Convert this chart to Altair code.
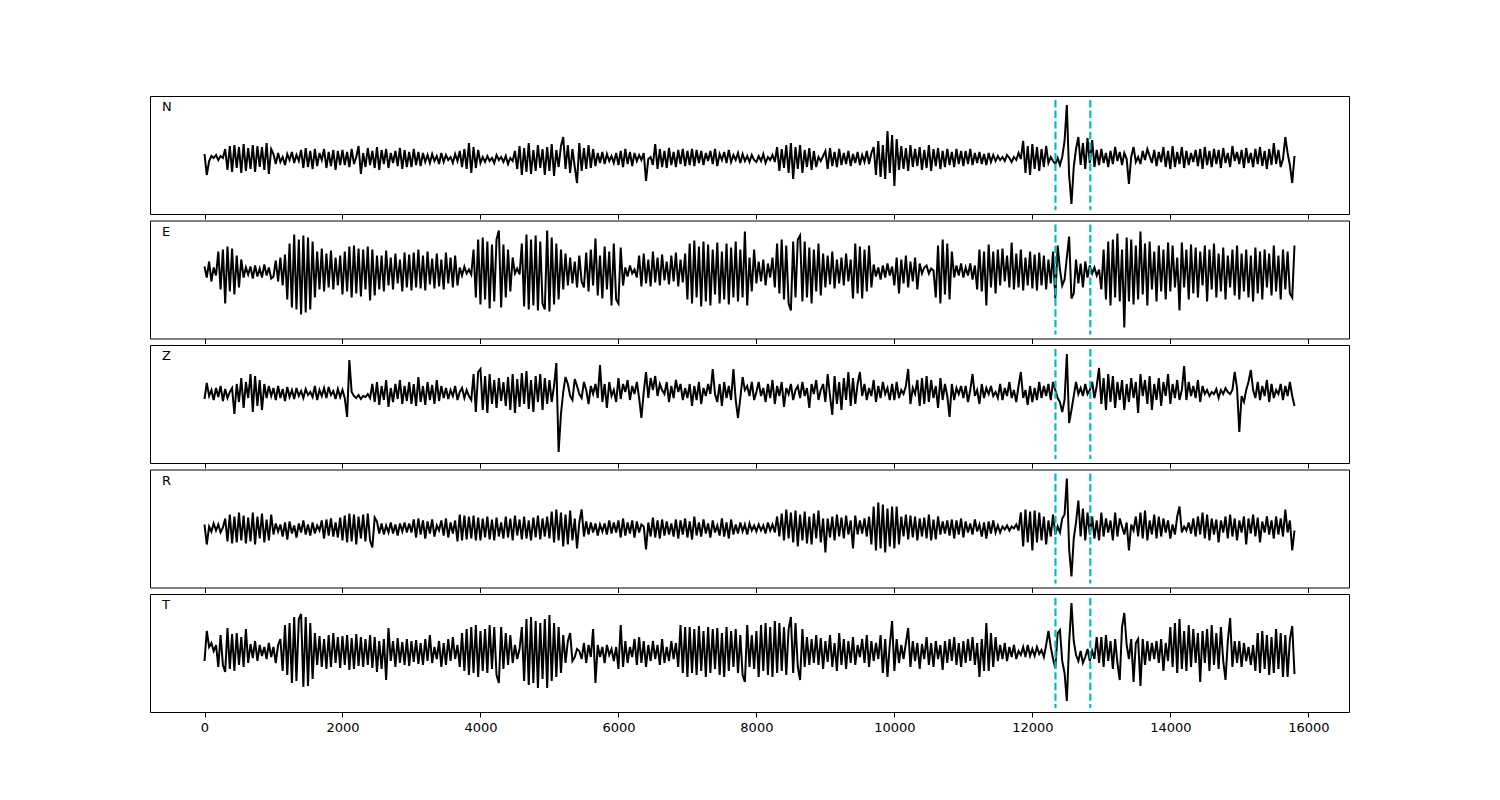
import altair as alt
import pandas as pd

# sample times: 475 samples, 0 .. 15800 (30 samples per 1000)
t = [round(i * 100 / 3) for i in range(475)]

# amplitudes (relative units; one row = 1000 samples of time)
N = [1, -20, -6, -1, -3, 0, -5, -1, -3, 6, -15, 9, -17, 10, -13, 8, -18, 11, -16, 7, -14, 10, -17, 9, -12, 8, -15, 12, -19, 6,
     1, -9, 2, -7, -2, -10, 1, -5, 3, -8, 0, -6, 5, -13, 7, -12, 4, -14, 6, -11, 2, -5, 6, -13, 3, -11, 5, -15, 4, -10,
     5, -10, 3, -12, 6, -9, -2, 9, -19, 2, -12, 7, -10, 4, -13, 8, -15, 5, -9, 6, -13, 2, -8, 4, -11, 7, -14, 5, -12, 3,
     -12, 6, -10, 3, -11, 2, -7, 0, -8, 1, -6, -1, -9, 2, -7, 0, -5, -2, -8, 1, -6, 4, -12, 6, -14, 12, -18, 8, -13, 5,
     -8, -2, -7, -1, -6, -3, -8, 0, -5, -2, -7, -1, -9, -3, -6, 4, -14, 9, -20, 7, -17, 12, -19, 5, -16, 10, -13, 6, -20, 8,
     -16, 11, -21, 5, -12, 9, 18, -14, 10, -18, 6, -12, -28, 12, -16, 7, -14, 10, -13, 6, -11, 2, -8, 3, -9, 1, -6, -1, -8, 2,
     -10, 4, -12, 6, -9, 3, -11, 2, -6, 0, -5, 2, -26, -4, -2, -10, 11, -14, 6, -12, 4, -13, 7, -10, 3, -12, 5, -9, 6, -11,
     4, -10, 6, -11, 5, -8, 4, -10, 2, -6, 4, -9, 6, -11, 1, -5, 3, -8, 5, -7, 0, -5, 2, -8, 1, -6, -1, -7, 0, -5,
     -7, -1, -6, 1, -8, -2, -5, 0, -7, 8, -16, 6, -13, 10, -18, 12, -24, 8, -14, 10, -18, 5, -12, 7, -15, 4, -12, -2, -6, -1,
     4, -14, 7, -11, 3, -12, 6, -10, 2, -9, 4, -11, 1, -8, 3, -10, 0, -7, 4, -9, 2, 8, -20, 14, -22, 10, -24, 24, -18, 20,
     -31, 16, -15, 9, -14, 7, -16, 10, -12, 6, -11, 8, -15, 5, -13, 10, -16, 6, -11, 7, -14, 4, -12, 6, -10, 3, -12, 6, -9, 4,
     -11, 4, -9, 6, -10, 2, -8, 3, -9, 1, -10, 2, -7, 0, -6, -1, -5, -2, -6, 0, -3, -7, -2, -5, 2, -4, 14, -18, 9, -20,
     11, -14, 8, -16, 6, -12, 9, -8, -2, -6, -9, -3, -10, -2, 14, 50, -20, -49, -12, 6, 18, -10, 12, -14, 17, -8, 15, -12, 5, -10,
     6, -8, 2, -12, 4, -9, 8, -6, 3, -10, 2, -4, -29, -2, 8, -7, -2, -9, 4, -5, 6, -1, -8, 5, -11, 3, -7, 8, -12, 4,
     -14, 9, -12, 3, -9, 8, -13, 4, -10, 2, -7, 5, -11, 6, -14, 8, -10, 4, -12, 6, -9, 5, -13, 7, -8, 2, -12, 9, -6, 3,
     -9, 5, -13, 7, -8, 2, -12, 6, -9, 8, -11, 4, -14, 6, -10, 12, -9, 5, -12, -4, 18, 2, -10, -28, -1]

E = [13, 2, 18, -2, 12, 4, 28, -10, 30, -24, 33, -12, 31, -15, 24, -8, 20, 2, 12, 5, 13, 1, 14, 3, 11, 2, 15, 4, 12, 1,
     3, 19, -2, 22, -6, 25, -20, 36, -28, 45, -30, 40, -35, 44, -33, 42, -30, 38, -18, 28, -10, 31, -12, 26, -8, 29, -10, 22, -6, 24,
     -15, 28, -12, 33, -18, 34, -14, 31, -17, 30, -10, 33, -21, 30, -16, 24, -10, 24, -12, 29, -6, 22, -10, 26, -4, 20, -12, 27, -8, 25,
     -11, 27, -8, 30, -9, 24, -11, 28, -5, 21, -9, 26, -7, 20, -10, 27, -4, 22, -8, 24, -6, 12, 4, 13, 6, 10, 5, 30, -18, 40,
     -25, 42, -20, 38, -29, 35, -22, 40, 49, -28, 35, -18, 30, -12, 22, 6, 11, 5, 36, -27, 45, -30, 40, -26, 44, -31, 38, -24, -30, 49,
     -32, 42, -25, 36, -20, 30, -10, 26, -6, 22, -4, 18, -8, 24, -2, -8, 27, -12, 30, -6, 41, -16, 24, -19, 33, -10, 28, -26, 36, -20,
     -24, 32, -6, 12, 3, 14, 6, 10, 2, 24, -7, 26, -4, 20, -7, 28, -3, 22, -6, 25, -1, 18, -5, 24, -2, 27, -7, 20, -3, 26,
     -20, 36, -24, 39, -18, 33, -27, 38, -22, 35, -26, 30, -15, 37, -24, 28, -20, 36, -25, 32, -18, 38, -22, 30, -18, 48, -26, 22, -12, 30,
     -4, 18, -2, 20, -6, 16, 2, 22, -8, 36, -14, 40, -20, 34, -24, -31, 38, -18, 40, 44, -22, 38, -18, 32, -24, 30, -12, 36, -16, 26,
     -8, 24, -5, 28, -9, 20, -4, 22, -6, 26, -2, 20, -19, 36, -14, 33, -19, 30, -12, 34, -8, 15, 3, 12, 0, 14, 2, 16, 4, 13,
     -6, 22, -14, 20, -4, 24, -8, 18, -2, 22, -10, 16, 6, 12, 14, 6, 11, 9, -18, 34, -24, 40, -15, 36, -20, 28, 2, 14, 4, 16,
     2, 12, 4, 16, 0, 14, -10, 30, -12, 28, -26, 35, -8, 28, -14, 30, -6, 31, -2, 24, -8, 37, -10, 26, -8, 30, -11, 22, -6, 28,
     -9, 25, -11, 27, -6, 24, -10, 20, -4, 28, -19, 34, 10, -6, 0, 22, 43, -19, -14, 20, -4, 16, -8, 18, 2, 14, 6, 12, 4, 10,
     -10, 30, -20, 38, -26, 40, -18, 46, -22, 30, -48, 42, -22, 40, -25, 34, -20, 48, -15, 36, -26, 38, -10, 28, -22, 34, -12, 30, -20, 37,
     -12, 34, -8, 22, -31, 37, -8, 30, -20, 35, -14, 32, -18, 28, -6, 34, -22, 30, -10, 36, -18, 26, -12, 32, -20, 24, -8, 30, -16, 34,
     -20, 26, -12, 30, -18, 24, -22, 32, -14, 28, -20, 30, -8, 26, -16, 34, -12, 24, -20, 30, -10, 28, -14, -18, 34]

Z = [5, 21, 8, 14, 4, 16, 7, 18, 3, 15, 6, 12, 16, -10, 20, 2, 26, -4, 22, 6, 30, -8, 28, -2, 24, -6, 20, 6, 18, 8,
     16, 4, 18, 6, 15, 3, 17, 7, 14, 5, 16, 8, 13, 6, 15, 9, 12, 7, 18, 4, 14, 8, 16, 6, 17, 9, 13, 5, 15, 7,
     14, 6, -13, 44, 12, 8, 6, 9, 5, 8, 7, 10, 6, 20, 2, 22, -1, 18, 4, 24, -3, 16, 2, 20, 5, 24, 0, 18, 3, 22,
     0, 20, -2, 27, 2, 18, -1, 22, 4, 19, 0, 24, 3, 18, 6, 16, 5, 14, 8, 18, 4, 12, 16, 6, 14, 8, 4, 30, -8, 32,
     35, -6, 28, -9, 30, 0, 24, -4, 26, 3, 22, -2, 27, -6, 30, -9, 25, -3, 31, 0, 33, -5, 24, -8, 28, 2, 30, -6, 26, 0,
     24, 2, 18, 41, -48, -10, 12, 27, 20, 8, 4, 25, 18, 10, 6, 22, 14, 0, 18, 10, 20, 6, 39, 2, 20, -4, 22, 8, 14, 2,
     26, 5, 20, 12, 24, 4, 18, 10, 22, 6, -14, 12, 32, 6, 26, 14, 28, 8, 20, 14, 10, 22, 2, 18, 6, 24, 12, 20, 4, 16,
     6, 20, -2, 18, 4, 22, 0, 16, 8, 20, 10, 35, 10, 2, 20, -2, 22, 6, 18, 4, 35, 4, -14, 6, 27, 14, 18, 8, 22, 4,
     12, 22, 8, 16, 2, 20, 6, 24, 0, 18, 8, 22, -3, 16, 10, 20, 4, 14, 18, 6, 22, 8, 16, -4, 20, 10, 24, 4, 14, 20,
     2, 30, 8, -11, 28, 0, 22, -6, 26, 4, 32, -2, 26, 0, 20, 32, 8, 20, 4, 16, 8, 24, 2, 18, 6, 22, 10, 16, 4, 20,
     4, 22, 6, 14, 10, 18, 35, 0, 16, 10, 24, -2, 26, 0, 28, 2, 24, 6, 18, -4, 26, 4, 20, 8, -13, 20, 4, 16, 10, 18,
     6, 18, 2, 14, 30, 8, 14, 0, 20, 6, 16, 10, 18, 8, 12, 6, 20, 4, 16, 8, 22, 6, 14, 2, 18, 32, 6, 14, -1, 18,
     2, 16, 4, 22, 6, 18, 8, 20, 4, 22, 14, 6, 2, -8, 4, 50, -19, -6, 8, 22, 10, 16, 8, 20, 10, 14, 22, 6, 18, 36,
     0, 26, -6, 30, 2, 28, -4, 22, 4, 24, -6, 20, 2, 26, 6, 22, -9, 30, 8, 24, 0, 28, -6, 20, 4, 26, -2, 22, 8, 30,
     0, 20, 6, 24, 4, 14, 38, 4, 22, 8, 18, 6, 24, 2, 18, 10, 14, 8, 12, 10, 15, 6, 14, 10, 16, 12, 10, 14, 32, 16,
     -28, 8, 2, 14, 22, 34, 14, 6, 22, 4, 18, 8, 24, 2, 20, 6, 14, 10, 20, 4, 18, 8, 22, 8, -2]

R = [4, -16, 2, -3, 5, -2, 4, -4, 1, 10, -13, 14, -15, 12, -14, 16, -12, 13, -15, 11, -13, 16, -16, 12, -10, 15, -14, 9, -12, 14,
     -6, 5, -3, 4, -8, 6, -11, 7, -5, 3, -9, 5, -4, 8, -6, 4, -7, 6, -5, 3, -2, 8, -10, 9, -7, 10, -8, 6, -9, 11,
     -12, 13, -14, 15, -13, 14, -16, 12, -10, 14, -13, 15, -12, -19, 11, 7, -5, 5, -6, 3, -4, 6, -5, 4, -7, 5, -3, 6, -4, 5,
     -4, 9, -9, 10, -6, 8, -10, 7, -5, 9, -8, 3, -2, 8, -7, 10, -9, 6, -5, 8, -13, 14, -12, 13, -11, 12, -10, 13, -12, 11,
     -12, 10, -9, 12, -11, 9, -12, 11, -8, 6, -10, 12, -9, 10, -12, 13, -7, 9, -11, 12, -10, 8, -12, 11, -9, 13, -11, 10, -8, 12,
     -10, 17, -14, 19, -12, 16, -18, 14, -16, 18, -12, 10, -20, 6, 19, -8, 7, -6, 6, -4, 5, -7, 4, -3, 5, -6, 8, -5, 6, -4,
     8, -9, 10, -7, 6, -5, 8, -9, 7, -4, 4, 2, -21, 6, -8, 11, -9, 8, -10, 9, -7, 7, -6, 5, -8, 9, -10, 8, -6, 10,
     -9, 7, -11, 12, -7, 6, -8, 9, -5, 5, -9, 8, -4, 3, -7, 10, -8, 6, -10, 9, -6, 4, -5, 6, -3, 4, -6, 5, -2, 3,
     -3, 4, -2, 3, -5, 6, -2, 4, -4, 12, -8, 15, -12, 19, -10, 16, -14, 18, -18, 14, -12, 17, -15, 12, -16, 15, -10, 18, -14, 10,
     -24, 10, -9, 12, -12, 14, -8, 11, -10, 13, -6, 8, -20, 13, -6, 8, -5, 10, -8, 12, -16, 22, -22, 26, -20, 24, -24, 20, -18, 22,
     -20, 22, -16, 12, -8, 14, -11, 13, -9, 12, -12, 10, -8, 11, -10, 14, -12, 9, -11, 12, -6, 7, -5, 8, -7, 9, -10, 8, -6, 10,
     -9, 7, -4, 5, -6, 9, -3, 4, -8, 6, -10, 7, -5, 8, -4, 3, -4, 2, -1, 3, -2, 2, 0, 4, -2, 16, -18, 19, -14, 17,
     -22, 18, -14, 16, -12, 12, -16, 8, -8, 14, -6, 2, -4, 10, 14, 50, -20, -48, -10, 6, 28, -8, 20, -12, 16, -6, 12, -10, 8, -12,
     16, -8, 10, -4, 8, -12, 16, -8, 10, 2, -6, 6, -22, 4, -2, 12, -8, 16, -10, 18, -12, 8, -6, 14, -10, 12, -8, 10, -4, 8,
     -10, 4, -6, 12, 22, -4, 2, -2, 6, -5, 10, -8, 12, -6, 16, -10, 14, -12, 10, -6, 9, -14, 8, -4, 12, -10, 14, -8, 10, -12,
     8, -4, 12, -16, 10, -5, 14, -8, 11, -14, 7, -4, 12, -6, 8, -10, 12, -6, 10, -8, 19, -4, 8, -22, -2]

T = [-8, 22, 6, 10, 2, 8, -14, 18, -12, -19, 25, -16, 19, -18, 20, -12, 16, -14, 24, -10, 9, -5, 12, -8, 8, -3, 6, -6, 10, -4,
     6, -10, 8, 14, -18, 28, -22, 30, -30, 36, -28, 34, 39, -34, 36, -33, 30, -26, 20, -12, 17, -14, 14, -16, 18, -14, 20, -10, 16, -15,
     17, -12, 18, -17, 15, -16, 19, -13, 16, -14, 14, -12, 18, -15, 16, -19, 12, -16, 14, -27, 25, -8, 12, -14, 15, -10, 11, -12, 14, -13,
     12, -9, 13, -11, 10, -12, 14, -8, 18, -10, 6, -6, 12, -14, 10, -12, 14, -8, 16, -6, 8, -14, 20, -18, 24, -22, 26, -20, 28, -24,
     22, -18, 24, -20, 28, -16, 26, -22, -30, 26, -16, 20, -12, 18, -10, 8, -6, 4, 26, -28, 34, -32, 36, -30, 32, -35, 30, -26, 34, -35,
     38, -28, 30, -24, 26, -20, 18, -10, 12, 20, -8, -4, 4, 2, -6, 10, -10, 8, -4, 24, -30, 8, -4, 6, -10, 8, -2, 4, -8, 6,
     -16, 28, -14, 12, -10, 6, -4, 14, -12, 16, -10, 12, -14, 8, -8, 12, -6, 8, -12, 14, -10, 6, -8, 12, -6, 10, -14, 28, -20, 26,
     -24, 26, -20, 24, -22, 27, -18, 22, -24, 26, -20, 24, -16, 25, -22, 20, -24, 26, -18, 22, -14, 24, -20, 18, -22, -29, 28, -14, 18, -16,
     22, -24, 28, -18, 30, -22, 26, -24, 32, -20, 30, -18, 26, -22, 24, 36, -20, 30, -14, -27, 24, -14, 16, -12, 14, -10, 18, -12, 15, -16,
     12, -9, 18, -14, 10, -18, 20, -12, 14, -16, 12, -10, 16, -12, 8, -4, 14, -10, 18, -14, 12, -8, 10, -6, 18, -20, 14, -24, 8, 32,
     -18, 14, -10, 8, -6, 10, 25, -14, 12, -8, 10, -16, 9, -6, 16, -12, 10, -14, 12, -6, 8, -17, 12, -10, 14, -8, 16, -12, 10, -14,
     12, -10, 14, -8, 16, -12, 10, -24, 14, -18, 30, -18, 20, -14, 16, -8, 8, -6, 10, -8, 6, -4, 8, -6, 2, -2, 6, -4, 8, -3,
     4, -3, 6, -1, 3, -4, 8, 22, 6, -6, -15, 20, 23, -8, -20, -48, 10, 50, 12, -2, -8, 2, -10, -4, 4, -8, 2, -6, 16, -10,
     16, -14, 18, -8, 12, -16, 14, -10, -27, 26, 40, 8, -6, 14, -29, 10, 14, -33, 14, -12, 12, -8, 10, -6, 12, -10, 14, -18, 10, -8,
     26, -14, 30, -20, 34, -16, 22, -18, 28, -14, 24, -10, 20, -29, 22, -10, 24, -18, 28, -12, 20, -16, 26, -8, -27, 12, 35, -14, 12, -10,
     12, -14, 10, -8, 6, -12, 8, -18, 20, -20, 22, -16, 18, -22, 16, -20, 24, -16, 20, -24, 18, -24, 14, 27, -21]

components = ["N", "E", "Z", "R", "T"]
series = {"N": N, "E": E, "Z": Z, "R": R, "T": T}
picks = [12335, 12840]
tick_values = [0, 2000, 4000, 6000, 8000, 10000, 12000, 14000, 16000]

for c in components:
    assert len(series[c]) == len(t), (c, len(series[c]), len(t))

rows = []
for c in components:
    for ti, v in zip(t, series[c]):
        rows.append({"t": ti, "amp": v, "comp": c})
df = pd.DataFrame(rows)
pick_df = pd.DataFrame({"t": picks})

W, H = 1199, 118
xscale = alt.Scale(domain=[-790, 16590], nice=False, zero=False)
yscale = alt.Scale(domain=[-59, 59], nice=False, zero=False)


def panel(c, last):
    xaxis = alt.Axis(values=tick_values, labels=last, title=None, grid=False,
                     domain=False, ticks=True, tickSize=5, tickWidth=1,
                     tickColor="black", labelColor="black", labelFontSize=13,
                     labelPadding=4, format="d")
    line = alt.Chart(df).transform_filter(alt.datum.comp == c).mark_line(
        color="black", strokeWidth=2, clip=True
    ).encode(
        x=alt.X("t:Q", scale=xscale, axis=xaxis),
        y=alt.Y("amp:Q", scale=yscale, axis=None),
    )
    rules = alt.Chart(pick_df).mark_rule(
        color="#00bfbf", strokeWidth=2.2, strokeDash=[7.4, 3.2]
    ).encode(
        x=alt.X("t:Q", scale=xscale, axis=xaxis),
        y=alt.value(4),
        y2=alt.value(H - 4),
    )
    label = alt.Chart(pd.DataFrame({"comp": [c]})).mark_text(
        align="left", baseline="middle", fontSize=13, color="black"
    ).encode(
        x=alt.value(12),
        y=alt.value(11),
        text="comp:N",
    )
    return alt.layer(line, rules, label).properties(width=W, height=H)


panels = [panel(c, i == len(components) - 1) for i, c in enumerate(components)]

chart = alt.vconcat(*panels, spacing=6.5, bounds="flush").properties(
    padding={"left": 141, "top": 87, "right": 20, "bottom": 20}
).configure(font="DejaVu Sans").configure_view(stroke="black", strokeWidth=1)

chart.save("out.html", embed_options={"renderer": "svg", "actions": False})
